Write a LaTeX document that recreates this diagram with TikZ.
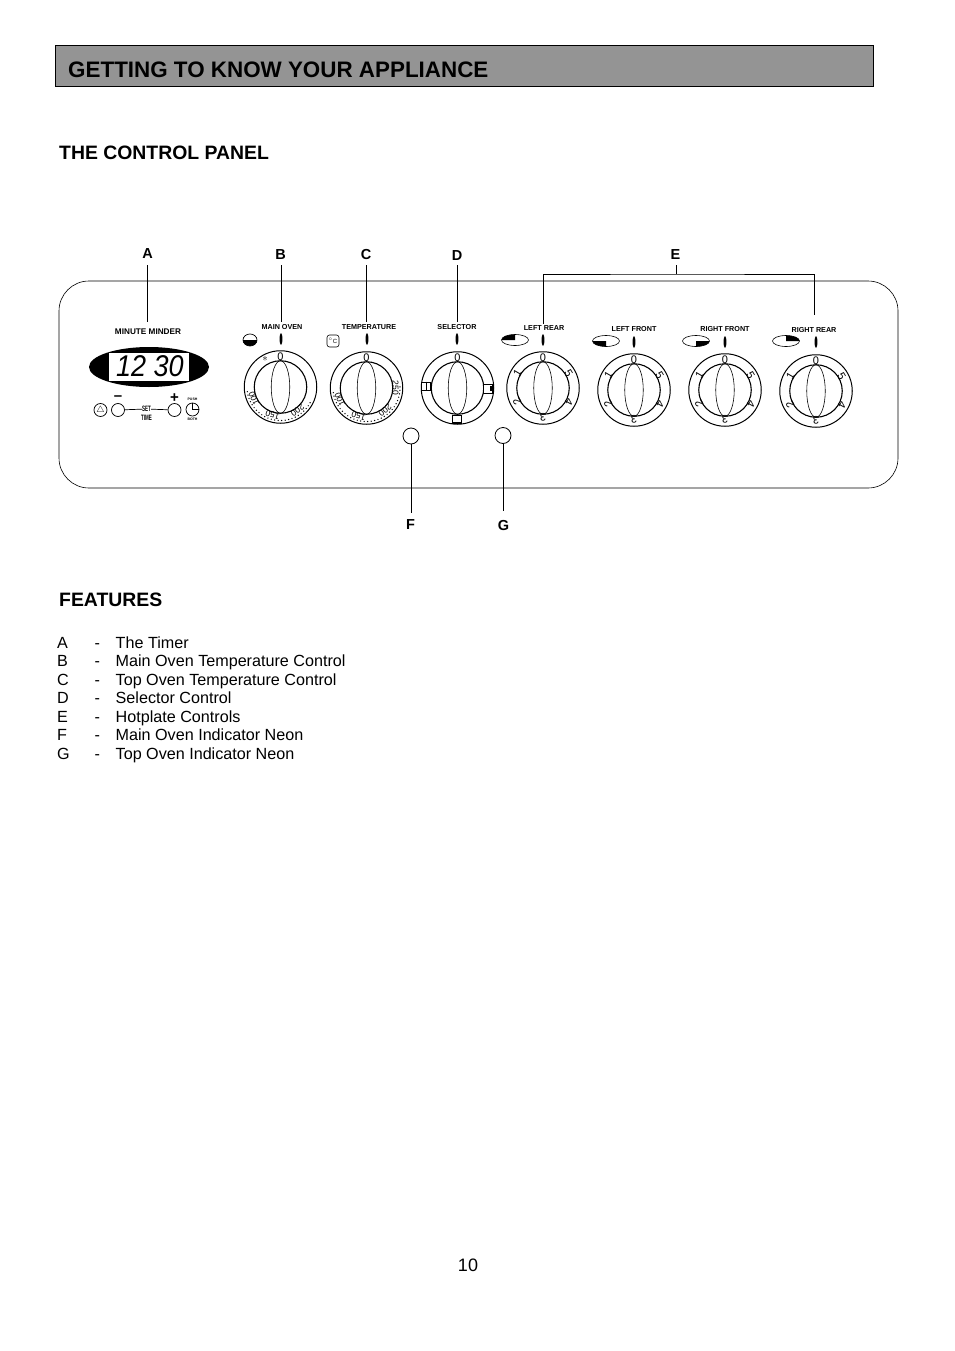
\documentclass[tikz,border=0pt]{standalone}
\usepackage{fontspec}
\setmainfont{Liberation Sans}
\usetikzlibrary{shapes.geometric}
\tikzset{
	heading/.style = {anchor = west, inner sep = 0pt, font = \fontsize{#1}{#1}\selectfont\bfseries},
	letter/.style = {inner sep = 0pt, font = \fontsize{14.5}{15}\selectfont\bfseries},
	item/.style = {anchor = base west, inner sep = 0pt, font = \fontsize{16.15}{17}\selectfont},
	tiny/.style = {inner sep = 0pt, font = \fontsize{7.2}{8}\selectfont\bfseries},
	mark text/.style = {inner sep = 0pt, font = \fontsize{#1}{#1}\selectfont\bfseries},
	outer ring/.style = {circle, draw, line width = 1pt, minimum size = 72.5pt, inner sep = 0pt},
	pointer/.style = {ellipse, fill = black, minimum width = 2.8pt, minimum height = 12pt, inner sep = 0pt},
	lamp/.style = {circle, draw, line width = 0.8pt, minimum size = 16pt, inner sep = 0pt},
	button/.style = {circle, draw, line width = 0.7pt, minimum size = 13pt, inner sep = 0pt},
	selbox/.style = {draw, line width = 0.8pt, fill = white, inner sep = 0pt},
	leader/.style = {line width = 0.6pt},
}
\begin{document}
\begin{tikzpicture}[x=1pt,y=-1pt]
		\useasboundingbox (0, 0) rectangle (954, 1351);
		\fill[white] (0, 0) rectangle (954, 1351);
		%%%%%%%%%%%%%
		\node[draw, line width = 0.8pt, fill = black!42, minimum width = 818pt, minimum height = 41pt, inner sep = 0pt, anchor = north west] (banner) at (55, 45.5) {};
		\node[heading = 22.4] (title) at (68, 69.5) {GETTING TO KNOW YOUR APPLIANCE};
		\node[heading = 19.4] (panel title) at (59, 153) {THE CONTROL PANEL};
		\node[heading = 19.4] (features title) at (59, 600) {FEATURES};
		%%%%%%%%%%%%%
		\draw[line width = 0.6pt, rounded corners = 30pt] (59, 281) rectangle (898, 488);
		%%%%%%%%%%%%% display and buttons
		\node[tiny, font = \fontsize{8.2}{9}\selectfont\bfseries] (minder) at (148, 331.5) {MINUTE MINDER};
		\node[ellipse, fill = black, minimum width = 120pt, minimum height = 40pt, inner sep = 0pt] (display) at (149, 367) {};
		\node[fill = white, minimum width = 80pt, minimum height = 28pt, inner sep = 0pt] (screen) at (149, 367) {};
		\node[inner sep = 0pt, xscale = 0.9, font = \fontsize{30}{30}\selectfont\itshape] (time) at (150, 366.5) {12 30};
		\node[button, minimum size = 13pt] (bell) at (100.5, 410) {};
		\node[inner sep = 0pt, font = \fontsize{9}{9}\selectfont] at (bell) {$\triangle$};
		\node[button] (minus) at (118, 410) {};
		\node[button] (plus) at (174.5, 410) {};
		\node[button, minimum size = 13pt] (clock) at (192.5, 409.5) {};
		\draw[line width = 0.7pt] (clock.center) -- (clock.north);
		\draw[line width = 0.7pt] (clock.center) -- (clock.east);
		\node[mark text = 15] at (118, 398.5) {--};
		\node[mark text = 15] at (174.5, 398) {+};
		\node[mark text = 6, xscale = 0.75, yscale = 1.3] (set) at (146.5, 409) {SET};
		\node[mark text = 6, xscale = 0.75, yscale = 1.3] (settime) at (146.5, 417.5) {TIME};
		\draw[line width = 0.7pt] (minus) -- (set);
		\draw[line width = 0.7pt] (set) -- (plus);
		\node[inner sep = 0pt, font = \fontsize{3.5}{4}\selectfont\bfseries] at (192.5, 399.5) {PUSH};
		\node[inner sep = 0pt, font = \fontsize{3.5}{4}\selectfont\bfseries] at (192.5, 419.5) {BOTH};
		%%%%%%%%%%%%% dials
		\foreach \dname/\dx/\dy/\lx/\ly/\tx/\ty/\ltext in {
			oven/280.5/387/282/327/281/339/MAIN OVEN,
			temp/366.5/388/369/327/367/339/TEMPERATURE,
			sel/457.5/388/457/327/457/339/SELECTOR,
			lr/543/388/544/328/543/340/LEFT REAR,
			lf/634/390/634/329/634/342/LEFT FRONT,
			rf/725/390/725/329/725/342/RIGHT FRONT,
			rr/816/391/814/330/816/342/RIGHT REAR}
		{
			\node[outer ring] (\dname) at (\dx, \dy) {};
			\node[circle, draw, line width = 1.1pt, minimum size = 52.5pt, inner sep = 0pt] (\dname in) at (\dx, \dy) {};
			\node[ellipse, draw, line width = 0.6pt, minimum width = 18.5pt, minimum height = 52.5pt, inner sep = 0pt] (\dname grip) at (\dx, \dy) {};
			\node[tiny] (\dname label) at (\lx, \ly) {\ltext};
			\node[pointer] (\dname tick) at (\tx, \ty) {};
			\path (\dname) ++(90:30.5pt) node[inner sep = 0pt, font = \fontsize{11}{11}\selectfont] {0};
		}
		%%%%%%%%%%%%% hotplate numbers
		\foreach \dname in {lr, lf, rf, rr}
			\foreach \dnum/\dang in {1/150, 2/208, 3/270, 4/332, 5/30}
				\path (\dname) ++(\dang:29.5pt) node[inner sep = 0pt, rotate = \dang-90, font = \fontsize{11}{11}\selectfont] {\dnum};
		%%%%%%%%%%%%% temperature scales
		\foreach \dname/\dend in {oven/334, temp/365}
		{
			\foreach \dang in {188, 194, ..., \dend}
				\fill (\dname) ++(\dang:33.5pt) circle (0.7pt);
		}
		\foreach \dname/\dnum/\dang in {oven/100/203, oven/150/254, oven/200/306, temp/100/203, temp/150/254, temp/200/310, temp/250/0}
			\path (\dname) ++(\dang:29pt) node[inner sep = 0pt, rotate = \dang-90, font = \fontsize{8.5}{9}\selectfont] {\dnum};
		\path (oven) ++(119:32pt) node[inner sep = 0pt, font = \fontsize{11}{11}\selectfont] {$*$};
		%%%%%%%%%%%%% selector symbols
		\node[selbox, minimum width = 8.5pt, minimum height = 8pt] (sel left) at (426, 386) {};
		\node[selbox, minimum width = 9pt, minimum height = 9pt] (sel right) at (487.5, 388.5) {};
		\node[selbox, minimum width = 9pt, minimum height = 7.5pt] (sel low) at (456.5, 419.5) {};
		\fill (452, 421.5) rectangle (461, 423.5);
		\draw[line width = 0.6pt] (sel left.north) -- (sel left.south);
		\fill (490, 386) rectangle (492, 391);
		%%%%%%%%%%%%% lamps and icons
		\node[ellipse, draw, line width = 0.7pt, minimum width = 14pt, minimum height = 12pt, inner sep = 0pt] (oven icon) at (250, 340) {};
		\fill (243, 340) arc[start angle = 180, end angle = 360, x radius = 7pt, y radius = 6pt] -- cycle;
		\node[draw, rounded corners = 2.5pt, line width = 0.6pt, minimum size = 12pt, inner sep = 0pt, font = \fontsize{6}{6}\selectfont] (temp icon) at (333, 341) {$^\circ$C};
		\foreach \iname/\ix/\iy/\sa in {lr/515/340/90, lf/606/341/180, rf/696/341/270, rr/786/341/0}
		{
			\node[ellipse, draw, line width = 0.6pt, minimum width = 27pt, minimum height = 11pt, inner sep = 0pt] (\iname icon) at (\ix, \iy) {};
			\fill (\iname icon.center) -- ++(\sa:13.5pt and 5.5pt) arc[start angle = \sa, delta angle = 90, x radius = 13.5pt, y radius = 5.5pt] -- cycle;
		}
		%%%%%%%%%%%%% neon lamps
		\node[lamp] (neon f) at (411, 436) {};
		\node[lamp] (neon g) at (503, 435.5) {};
		%%%%%%%%%%%%% letters
		\node[letter] (a) at (147.5, 253.5) {A};
		\node[letter] (b) at (280.5, 254.5) {B};
		\node[letter] (c) at (366, 254.5) {C};
		\node[letter] (d) at (457, 255.5) {D};
		\node[letter] (e) at (675.5, 254.5) {E};
		\node[letter] (f) at (410.5, 525) {F};
		\node[letter] (g) at (503.5, 525.5) {G};
		\coordinate (a end) at (147, 322);
		\coordinate (b end) at (281, 322);
		\coordinate (c end) at (366, 322);
		\coordinate (d end) at (457, 322);
		\coordinate (e left) at (543, 324);
		\coordinate (e right) at (814, 315);
		\coordinate (e mid) at (676, 274);
		\draw[leader] (147, 265) -- (a end);
		\draw[leader] (281, 265) -- (b end);
		\draw[leader] (366, 265) -- (c end);
		\draw[leader] (457, 265) -- (d end);
		\draw[leader] (676, 265) -- (e mid);
		\draw[leader] (e left) |- (e mid) -| (e right);
		\draw[leader] (neon f) -- (411, 513);
		\draw[leader] (neon g) -- (503, 511);
		%%%%%%%%%%%%% feature list
		\foreach \fkey/\fy/\ftext in {
			A/648/The Timer,
			B/666/Main Oven Temperature Control,
			C/685/Top Oven Temperature Control,
			D/703/Selector Control,
			E/722/Hotplate Controls,
			F/740/Main Oven Indicator Neon,
			G/759/Top Oven Indicator Neon}
		{
			\node[item] (key \fkey) at (57, \fy) {\fkey};
			\node[item] (dash \fkey) at (94.5, \fy) {-};
			\node[item] (text \fkey) at (115.5, \fy) {\ftext};
		}
		\node[inner sep = 0pt, font = \fontsize{18}{18}\selectfont] (page) at (468, 1265.5) {10};
	\end{tikzpicture}
\end{document}
